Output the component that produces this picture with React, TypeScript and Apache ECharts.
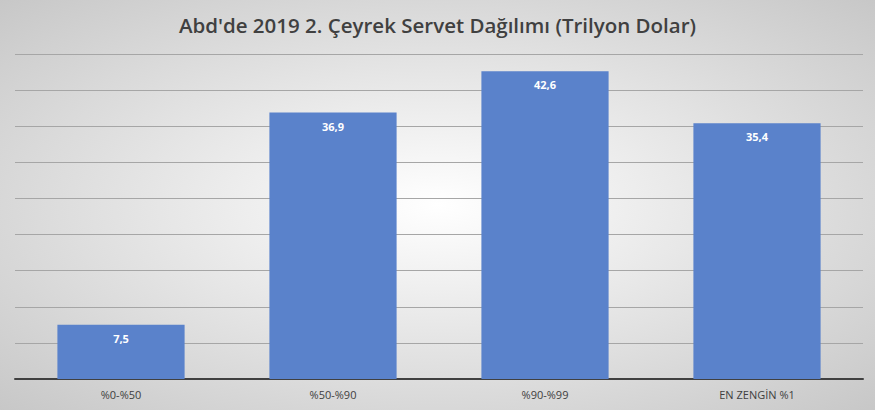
import React, { useEffect, useRef } from "react";
import * as echarts from "echarts";

const categories = ["%0-%50", "%50-%90", "%90-%99", "EN ZENGİN %1"];
const values = [7.5, 36.9, 42.6, 35.4];
const labels = ["7,5", "36,9", "42,6", "35,4"];
const titleText = "Abd'de 2019 2. Çeyrek Servet Dağılımı (Trilyon Dolar)";

export default function App() {
  const ref = useRef<HTMLDivElement>(null);
  useEffect(() => {
    const chart = echarts.init(ref.current!, null, { renderer: "svg" });
    chart.setOption({
      animation: false,
      backgroundColor: {
        type: "radial",
        x: 0.5,
        y: 0.5,
        r: 0.75,
        colorStops: [
          { offset: 0, color: "#ffffff" },
          { offset: 1, color: "#c4c4c4" },
        ],
      },
      title: {
        text: titleText,
        left: "center",
        top: 9,
        textStyle: {
          fontFamily: "Open Sans",
          fontSize: 20.5,
          fontWeight: 600,
          color: "#404040",
        },
      },
      grid: { left: 15, right: 12, top: 54, bottom: 31, containLabel: false },
      xAxis: {
        type: "category",
        data: categories,
        axisLine: { lineStyle: { color: "#404040", width: 2 } },
        axisTick: { show: false },
        axisLabel: { color: "#404040", fontSize: 11, fontFamily: "Open Sans", margin: 10 },
      },
      yAxis: {
        type: "value",
        min: 0,
        max: 45,
        interval: 5,
        axisLabel: { show: false },
        axisLine: { show: false },
        axisTick: { show: false },
        splitLine: { lineStyle: { color: "#a6a6a6", width: 1 } },
      },
      series: [
        {
          type: "bar",
          data: values,
          barWidth: "60%",
          itemStyle: { color: "#5a82cb" },
          label: {
            show: true,
            position: "insideTop",
            distance: 8,
            color: "#ffffff",
            fontWeight: "bold",
            fontSize: 11,
            fontFamily: "Open Sans",
            formatter: (p: any) => labels[p.dataIndex],
          },
        },
      ],
    });
    return () => chart.dispose();
  }, []);
  return <div ref={ref} style={{ width: 875, height: 410, position: "absolute", left: 0, top: 0 }} />;
}
